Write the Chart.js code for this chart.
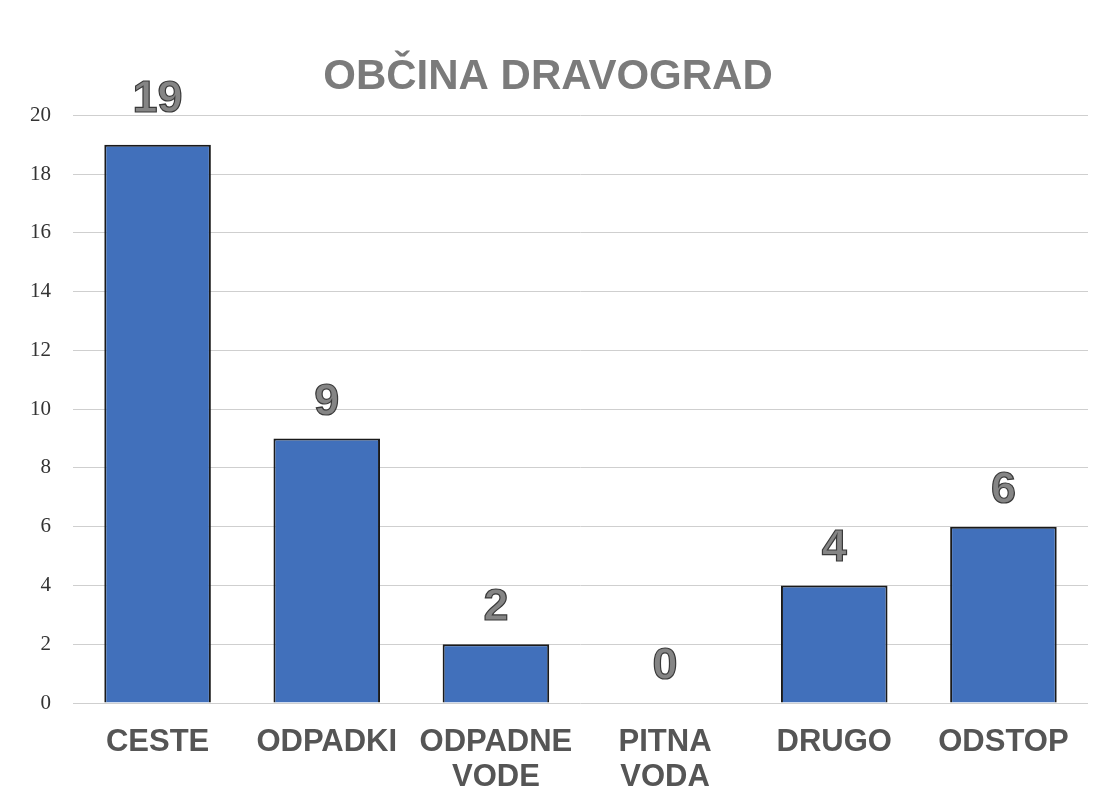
<!DOCTYPE html>
<html>
<head>
<meta charset="utf-8">
<script src="https://cdn.jsdelivr.net/npm/chart.js@4.4.1/dist/chart.umd.min.js"></script>
<style>
html,body{margin:0;padding:0;background:#fff;}
#wrap{width:1105px;height:805px;position:relative;}
</style>
</head>
<body>
<div id="wrap"><canvas id="c" width="1105" height="805"></canvas></div>
<script>
const categories = [["CESTE"], ["ODPADKI"], ["ODPADNE", "VODE"], ["PITNA", "VODA"], ["DRUGO"], ["ODSTOP"]];
const values = [19, 9, 2, 0, 4, 6];
const titleText = "OBČINA DRAVOGRAD";
const yTicks = [0, 2, 4, 6, 8, 10, 12, 14, 16, 18, 20];

const valueLabels = {
  id: 'valueLabels',
  afterDatasetsDraw(chart) {
    const ctx = chart.ctx;
    const meta = chart.getDatasetMeta(0);
    const top = chart.chartArea.top;
    ctx.save();
    ctx.font = 'bold 45px "Liberation Sans", Arial, sans-serif';
    ctx.textAlign = 'center';
    ctx.textBaseline = 'alphabetic';
    ctx.lineWidth = 1.2;
    ctx.strokeStyle = '#3a3a3a';
    ctx.fillStyle = '#858585';
    meta.data.forEach((bar, i) => {
      let y = bar.y - 24;
      if (y < top + 30) y = top - 3;
      ctx.fillText(String(values[i]), bar.x, y);
      ctx.strokeText(String(values[i]), bar.x, y);
    });
    ctx.restore();
  }
};

new Chart(document.getElementById('c'), {
  type: 'bar',
  data: {
    labels: categories,
    datasets: [{
      data: values,
      backgroundColor: '#4170bb',
      borderColor: '#1a1a1a',
      borderWidth: 2,
      barPercentage: 0.63,
      categoryPercentage: 1.0
    }]
  },
  options: {
    responsive: false,
    animation: false,
    devicePixelRatio: 1,
    layout: { padding: { left: 8, right: 17, top: 0, bottom: 0 } },
    plugins: {
      legend: { display: false },
      tooltip: { enabled: false },
      title: {
        display: true,
        text: titleText,
        color: '#7b7b7b',
        font: { family: '"Liberation Sans", Arial, sans-serif', size: 42, weight: 'bold' },
        padding: { top: 52, bottom: 13 }
      }
    },
    scales: {
      y: {
        min: 0, max: 20,
        afterBuildTicks(scale) { scale.ticks = yTicks.map(v => ({ value: v })); },
        ticks: {
          color: '#333',
          font: { family: '"Liberation Serif", "DejaVu Serif", serif', size: 21 },
          padding: 22
        },
        grid: { color: '#cfcfcf', lineWidth: 1, drawTicks: false },
        border: { display: false }
      },
      x: {
        afterFit(scale) { scale.height = 102; },
        ticks: {
          color: '#555',
          font: { family: '"Liberation Sans", Arial, sans-serif', size: 31, weight: 'bold', lineHeight: 1.13 },
          padding: 22,
          maxRotation: 0,
          autoSkip: false
        },
        grid: { display: false, drawTicks: false },
        border: { display: false }
      }
    }
  },
  plugins: [valueLabels]
});
</script>
</body>
</html>
